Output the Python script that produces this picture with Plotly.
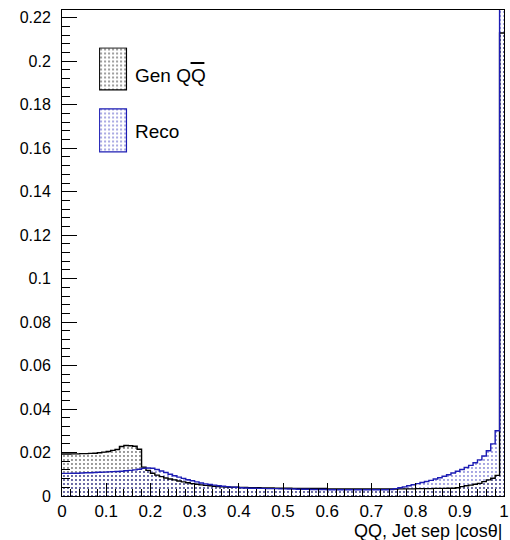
import plotly.graph_objects as go

# ---- data (100 bins of width 0.01 over |cos theta| in [0,1]) ----
bin_edges = [i / 100 for i in range(101)]
bin_centers = [(bin_edges[i] + bin_edges[i + 1]) / 2 for i in range(100)]

gen_values = [
    0.0193, 0.0193, 0.0194, 0.0194, 0.0195, 0.0195, 0.0196, 0.0197, 0.0199, 0.0202,
    0.0205, 0.0210, 0.0214, 0.0228, 0.0232, 0.0231, 0.0229, 0.0215, 0.0133, 0.0118,
    0.0105, 0.0096, 0.0089, 0.0083, 0.0078, 0.0074, 0.0069, 0.0065, 0.0061, 0.0057,
    0.0054, 0.0051, 0.0049, 0.0047, 0.0045, 0.0044, 0.0042, 0.0041, 0.0040, 0.0040,
    0.0039, 0.0039, 0.0038, 0.0038, 0.0038, 0.0037, 0.0037, 0.0037, 0.0036, 0.0036,
    0.0036, 0.0036, 0.0035, 0.0035, 0.0035, 0.0035, 0.0035, 0.0035, 0.0035, 0.0035,
    0.0032, 0.0032, 0.0032, 0.0032, 0.0032, 0.0032, 0.0032, 0.0032, 0.0032, 0.0032,
    0.0032, 0.0032, 0.0032, 0.0032, 0.0032, 0.0032, 0.0033, 0.0033, 0.0033, 0.0033,
    0.0034, 0.0034, 0.0034, 0.0034, 0.0035, 0.0035, 0.0035, 0.0036, 0.0036, 0.0038,
    0.0043, 0.0047, 0.0050, 0.0054, 0.0058, 0.0066, 0.0074, 0.0082, 0.0095, 0.2130,
]

reco_values = [
    0.0104, 0.0104, 0.0105, 0.0105, 0.0106, 0.0107, 0.0107, 0.0108, 0.0109, 0.0110,
    0.0111, 0.0112, 0.0113, 0.0114, 0.0116, 0.0118, 0.0120, 0.0123, 0.0127, 0.0129,
    0.0128, 0.0122, 0.0115, 0.0108, 0.0100, 0.0093, 0.0087, 0.0081, 0.0075, 0.0070,
    0.0065, 0.0060, 0.0056, 0.0053, 0.0050, 0.0047, 0.0045, 0.0043, 0.0041, 0.0040,
    0.0038, 0.0037, 0.0036, 0.0036, 0.0035, 0.0035, 0.0034, 0.0034, 0.0034, 0.0033,
    0.0033, 0.0032, 0.0032, 0.0031, 0.0031, 0.0031, 0.0030, 0.0030, 0.0030, 0.0030,
    0.0029, 0.0029, 0.0029, 0.0029, 0.0029, 0.0029, 0.0029, 0.0029, 0.0029, 0.0029,
    0.0029, 0.0029, 0.0029, 0.0029, 0.0030, 0.0034, 0.0038, 0.0042, 0.0047, 0.0052,
    0.0057, 0.0062, 0.0067, 0.0072, 0.0078, 0.0084, 0.0091, 0.0098, 0.0106, 0.0114,
    0.0122, 0.0131, 0.0141, 0.0153, 0.0166, 0.0184, 0.0208, 0.0240, 0.0300, 0.3000,
]

series_names = ["Gen QQ", "Reco"]
x_title = "QQ, Jet sep |cos\u03b8|"
y_range = [0, 0.2236]

GEN_COLOR = "#000000"
RECO_COLOR = "#1c1cb4"
FONT = "Liberation Sans, Arial, Helvetica, sans-serif"

fig = go.Figure()

def pattern(color):
    return dict(shape=".", fgcolor=color, bgcolor="rgba(0,0,0,0)",
                size=4, solidity=0.1, fillmode="replace")

# filled histograms
for vals, col in [(gen_values, GEN_COLOR), (reco_values, RECO_COLOR)]:
    fig.add_trace(go.Bar(
        x=bin_centers, y=vals, width=0.01,
        marker=dict(color="rgba(0,0,0,0)", line=dict(width=0), pattern=pattern(col)),
        showlegend=False, hoverinfo="skip",
    ))

# step outlines
for vals, col in [(gen_values, GEN_COLOR), (reco_values, RECO_COLOR)]:
    fig.add_trace(go.Scatter(
        x=bin_edges, y=vals + [vals[-1]], mode="lines",
        line=dict(color=col, width=1.4, shape="hv"),
        showlegend=False, hoverinfo="skip",
    ))

# legend swatches drawn in a small inset axis
L, R, T, B = 62, 509, 10, 496
W, H = R - L, B - T
def px(x):
    return (x - L) / W
def py(y):
    return (B - y) / H

box_bottom_px = 153.5
box_top_px = 47.5
fig.add_trace(go.Bar(
    x=[0], base=[box_bottom_px - 90.7], y=[90.7 - box_top_px], width=1,
    marker=dict(color="rgba(0,0,0,0)", line=dict(color=GEN_COLOR, width=1.2),
                pattern=pattern(GEN_COLOR)),
    xaxis="x2", yaxis="y2", showlegend=False, hoverinfo="skip",
))
fig.add_trace(go.Bar(
    x=[0], base=[0], y=[box_bottom_px - 109.3], width=1,
    marker=dict(color="rgba(0,0,0,0)", line=dict(color=RECO_COLOR, width=1.2),
                pattern=pattern(RECO_COLOR)),
    xaxis="x2", yaxis="y2", showlegend=False, hoverinfo="skip",
))

fig.update_layout(
    width=510, height=540,
    margin=dict(l=L, r=510 - R, t=T, b=540 - B),
    paper_bgcolor="white", plot_bgcolor="white",
    barmode="overlay", bargap=0,
    font=dict(family=FONT, color="black"),
    xaxis=dict(
        range=[0, 1], dtick=0.1, tick0=0, ticks="inside", ticklen=13,
        tickcolor="black", showline=True, linecolor="black", linewidth=1,
        mirror=True, showgrid=False, zeroline=False, ticklabeloverflow="allow",
        tickfont=dict(size=17, family=FONT, color="black"),
        minor=dict(dtick=0.02, ticks="inside", ticklen=7, tickcolor="black", showgrid=False),
    ),
    yaxis=dict(
        range=y_range, dtick=0.02, tick0=0, ticks="inside", ticklen=15,
        tickcolor="black", showline=True, linecolor="black", linewidth=1,
        mirror=True, showgrid=False, zeroline=False, ticklabelstandoff=7,
        tickfont=dict(size=16, family=FONT, color="black"),
        minor=dict(dtick=0.004, ticks="inside", ticklen=8, tickcolor="black", showgrid=False),
    ),
    xaxis2=dict(domain=[px(99.5), px(128.5)], range=[-0.52, 0.52], anchor="y2",
                visible=False, fixedrange=True),
    yaxis2=dict(domain=[py(box_bottom_px), py(box_top_px)],
                range=[-0.6, box_bottom_px - box_top_px + 0.6], anchor="x2",
                visible=False, fixedrange=True),
    annotations=[
        dict(text=x_title, x=1, y=py(531), xref="paper", yref="paper",
             xanchor="right", yanchor="middle", showarrow=False,
             font=dict(size=18, family=FONT, color="black")),
        dict(text=series_names[0], x=px(134), y=py(75), xref="paper", yref="paper",
             xanchor="left", yanchor="middle", showarrow=False,
             font=dict(size=19, family=FONT, color="black")),
        dict(text=series_names[1], x=px(134), y=py(131), xref="paper", yref="paper",
             xanchor="left", yanchor="middle", showarrow=False,
             font=dict(size=19, family=FONT, color="black")),
    ],
    shapes=[
        dict(type="line", xref="paper", yref="paper",
             x0=px(192), x1=px(206), y0=py(63), y1=py(63),
             line=dict(color="black", width=2)),
    ],
)

fig.write_html("out.html")
